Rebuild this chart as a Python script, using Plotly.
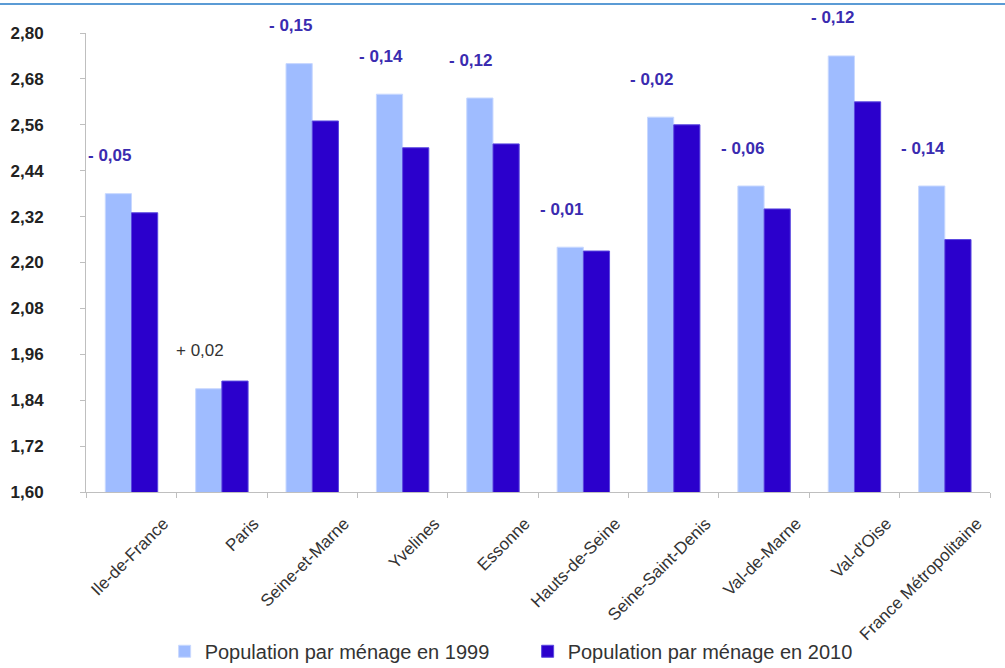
import plotly.graph_objects as go

categories = ["Ile-de-France", "Paris", "Seine-et-Marne", "Yvelines", "Essonne",
              "Hauts-de-Seine", "Seine-Saint-Denis", "Val-de-Marne", "Val-d'Oise",
              "France Métropolitaine"]
pop_1999 = [2.38, 1.87, 2.72, 2.64, 2.63, 2.24, 2.58, 2.40, 2.74, 2.40]
pop_2010 = [2.33, 1.89, 2.57, 2.50, 2.51, 2.23, 2.56, 2.34, 2.62, 2.26]
diff_labels = ["- 0,05", "+ 0,02", "- 0,15", "- 0,14", "- 0,12",
               "- 0,01", "- 0,02", "- 0,06", "- 0,12", "- 0,14"]
y_ticks = [1.60, 1.72, 1.84, 1.96, 2.08, 2.20, 2.32, 2.44, 2.56, 2.68, 2.80]

FONT = "Liberation Sans, Arial, sans-serif"
LIGHT = "#9fbcff"
DARK = "#2b00cc"

fig = go.Figure()
fig.add_trace(go.Bar(x=categories, y=pop_1999, name="Population par ménage en 1999",
                     marker=dict(color=LIGHT, line=dict(color="#c8d8ff", width=1))))
fig.add_trace(go.Bar(x=categories, y=pop_2010, name="Population par ménage en 2010",
                     marker=dict(color=DARK, line=dict(color="#5a48e0", width=1))))

for cat, v, lab in zip(categories, pop_1999, diff_labels):
    pos = lab.startswith("+")
    fig.add_annotation(x=cat, y=v, text=lab, showarrow=False, xshift=-22, yshift=38,
                       font=dict(family=FONT, size=17,
                                 color="#333333" if pos else "#3a2bb0",
                                 weight="normal" if pos else "bold"))

fig.add_shape(type="line", xref="paper", yref="paper", x0=-0.1, x1=1.1,
              y0=1.063, y1=1.063, line=dict(color="#5b9bd5", width=2))

fig.update_layout(
    width=1005, height=668,
    margin=dict(l=86, r=15, t=33, b=176, autoexpand=False),
    plot_bgcolor="white", paper_bgcolor="white",
    separators=", ",
    barmode="group", bargap=0.42, bargroupgap=0.0,
    font=dict(family=FONT, color="#333333"),
    showlegend=True,
    legend=dict(orientation="h", xref="container", yref="paper",
                x=0.525, xanchor="center", y=-0.347, yanchor="middle",
                bgcolor="rgba(0,0,0,0)",
                font=dict(size=20, color="#333333"), entrywidth=318,
                entrywidthmode="pixels", itemwidth=30),
)
fig.update_yaxes(range=[1.6, 2.8], tickvals=y_ticks, tickformat=".2f",
                 showgrid=False, zeroline=False, showline=True, linecolor="#bfbfbf",
                 ticks="outside", ticklen=5, tickcolor="#bfbfbf",
                 ticklabelstandoff=33, automargin=False,
                 tickfont=dict(size=17, color="#222222", weight="bold"))
fig.update_xaxes(showgrid=False, showline=True, linecolor="#bfbfbf",
                 ticks="outside", ticklen=5, tickcolor="#bfbfbf", tickson="boundaries",
                 tickangle=-45, ticklabelshift=32, ticklabelstandoff=14, automargin=False,
                 tickfont=dict(size=17, color="#333333"))

fig.write_html("out.html")
